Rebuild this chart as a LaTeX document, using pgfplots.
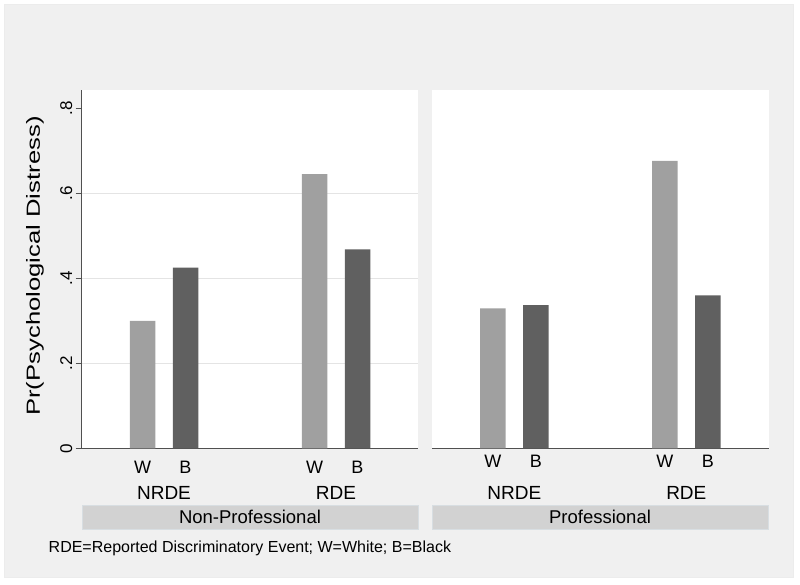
\documentclass[border=0pt]{standalone}
\usepackage{pgfplots}
\pgfplotsset{compat=1.18}
\usepackage{fontspec}
\setmainfont{Liberation Sans}
\usepackage{graphicx}

\definecolor{bgray}{HTML}{F0F0F0}
\definecolor{lightbar}{HTML}{A0A0A0}
\definecolor{darkbar}{HTML}{606060}
\definecolor{gridc}{HTML}{E4E4E4}
\definecolor{axisc}{HTML}{505050}
\definecolor{bandc}{HTML}{D2D2D2}
\definecolor{bandline}{HTML}{D8DEE2}

\newcommand{\fs}[1]{\fontsize{#1}{#1}\selectfont}

% W/B bars at 1,2 (NRDE) and 5,6 (RDE)
\pgfplotsset{
  panel/.style={
    scale only axis,
    width=336.6pt, height=358.3pt,
    anchor=south west,
    xmin=-0.414, xmax=7.414,
    ymin=0, ymax=0.843,
    axis background/.style={fill=white},
    axis x line*=bottom, axis y line*=left,
    axis line style={-, axisc, line width=1pt},
    xtick={1,2,5,6},
    xticklabels={W,B,W,B},
    xtick style={draw=none},
    xticklabel style={font=\fs{18}, yshift=-3pt},
    ytick={0,0.2,0.4,0.6},
    ymajorgrids=true,
    grid style={gridc, line width=0.8pt},
    clip=false,
  },
  lbar/.style={ybar, bar width=25.5pt, bar shift=0pt, fill=lightbar, draw=none},
  dbar/.style={ybar, bar width=25.5pt, bar shift=0pt, fill=darkbar, draw=none},
}

\begin{document}
\begin{tikzpicture}[x=1pt,y=1pt]
\useasboundingbox (0,0) rectangle (800,584);
\fill[white] (0,0) rectangle (800,584);
\filldraw[fill=bgray, draw=gray!15] (4,7) rectangle (793,580);

% Non-Professional
\begin{axis}[panel,
    at={(81.7pt,135.7pt)},
    yticklabels={0,.2,.4,.6},
    extra y ticks={0.8},
    extra y tick labels={.8},
    extra y tick style={grid=none},
    ytick style={axisc, line width=0.8pt},
    tick align=outside,
    major tick length=6pt,
    yticklabel style={rotate=90, anchor=south, font=\fs{17}},
]
\addplot[lbar] coordinates {(1,0.300) (5,0.645)};
\addplot[dbar] coordinates {(2,0.425) (6,0.468)};
\end{axis}

% Professional
\begin{axis}[panel,
    at={(432pt,135.7pt)},
    axis y line=none,
    yticklabels={},
]
\addplot[lbar] coordinates {(1,0.329) (5,0.676)};
\addplot[dbar] coordinates {(2,0.337) (6,0.360)};
\end{axis}

% y axis title
\node[rotate=90, font=\fs{19}] at (35,318) {\scalebox{1.35}[1]{Pr(Psychological Distress)}};

% group labels
\node[font=\fs{19}] at (164,91) {NRDE};
\node[font=\fs{19}] at (336,91) {RDE};
\node[font=\fs{19}] at (514.3,91) {NRDE};
\node[font=\fs{19}] at (686.3,91) {RDE};

% panel strips
\filldraw[fill=bandc, draw=bandline] (82,55) rectangle (418,79);
\filldraw[fill=bandc, draw=bandline] (432,55) rectangle (768,79);
\node[font=\fs{18.5}] at (250,67) {Non-Professional};
\node[font=\fs{18.5}] at (600,67) {Professional};

% note
\node[font=\fs{16}, anchor=west, inner sep=0pt] at (48.5,36) {RDE=Reported Discriminatory Event; W=White; B=Black};
\end{tikzpicture}
\end{document}
